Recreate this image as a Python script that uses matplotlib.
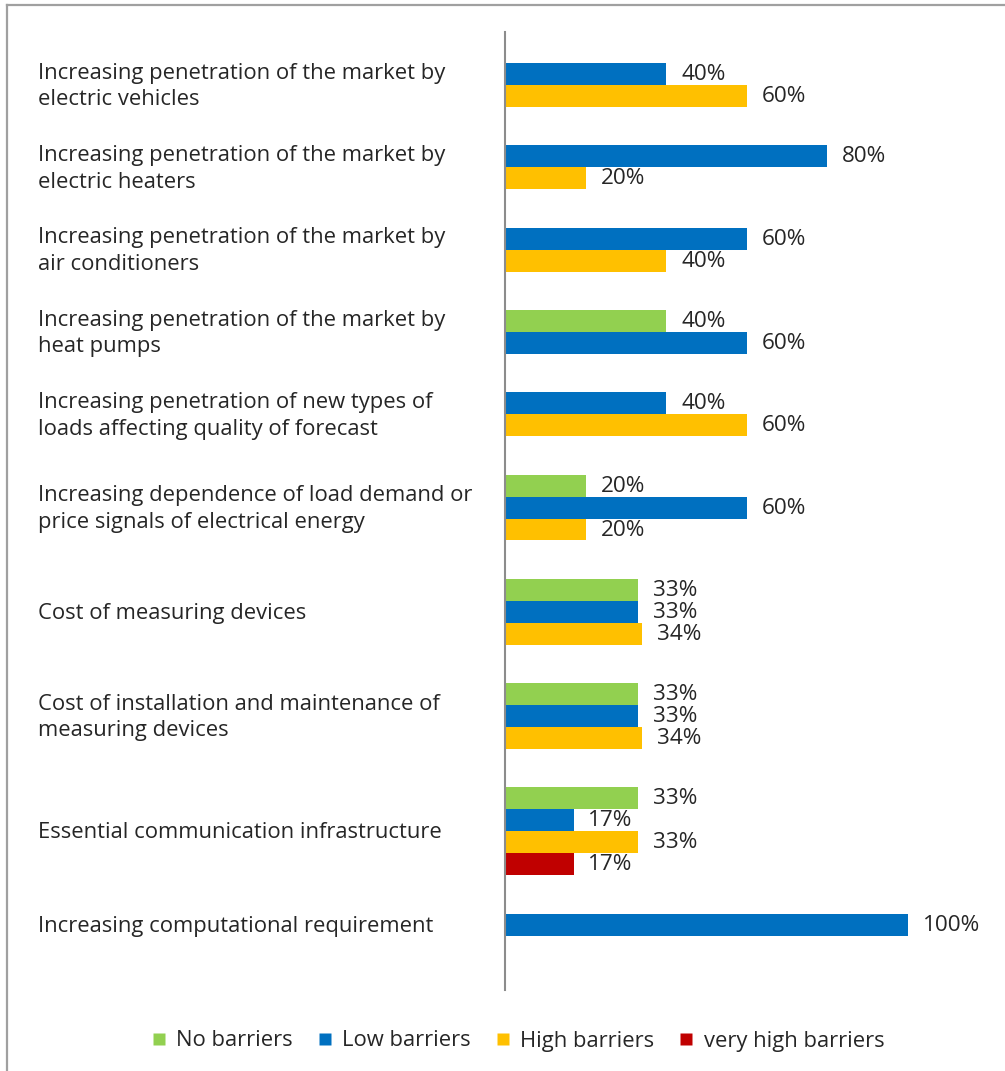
import matplotlib.pyplot as plt
from matplotlib.lines import Line2D
import matplotlib.transforms as mtransforms

plt.rcParams['font.family'] = ['Open Sans', 'DejaVu Sans']

categories = [
    "Increasing penetration of the market by\nelectric vehicles",
    "Increasing penetration of the market by\nelectric heaters",
    "Increasing penetration of the market by\nair conditioners",
    "Increasing penetration of the market by\nheat pumps",
    "Increasing penetration of new types of\nloads affecting quality of forecast",
    "Increasing dependence of load demand or\nprice signals of electrical energy",
    "Cost of measuring devices",
    "Cost of installation and maintenance of\nmeasuring devices",
    "Essential communication infrastructure",
    "Increasing computational requirement",
]
no_barriers = [0, 0, 0, 40, 0, 20, 33, 33, 33, 0]
low_barriers = [40, 80, 60, 60, 40, 60, 33, 33, 17, 100]
high_barriers = [60, 20, 40, 0, 60, 20, 34, 34, 33, 0]
very_high_barriers = [0, 0, 0, 0, 0, 0, 0, 0, 17, 0]

series_names = ["No barriers", "Low barriers", "High barriers", "very high barriers"]
colors = ["#92D050", "#0070C0", "#FFC000", "#C00000"]
text_color = "#262626"

W, H = 1005, 1071
fig = plt.figure(figsize=(W / 100, H / 100), dpi=100)
# axes in pixel units: x 0..100 %, y counts pixels downward from the axis top
ax = fig.add_axes([505 / W, (H - 990) / H, 403 / W, 958 / H])
ax.set_xlim(0, 100)
ax.set_ylim(958, 0)

bar_h = 22
gap = 38.3
y = 31
series = [no_barriers, low_barriers, high_barriers, very_high_barriers]
label_trans = mtransforms.blended_transform_factory(fig.transFigure, ax.transData)
for i, cat in enumerate(categories):
    vals = [(s[i], c) for s, c in zip(series, colors) if s[i] > 0]
    top = y
    for v, c in vals:
        ax.barh(y + bar_h / 2, v, height=bar_h, color=c, edgecolor='none')
        ax.text(v + 3.7, y + bar_h / 2 + 0.5, f"{v}%", ha='left', va='center',
                fontsize=16.2, color=text_color, clip_on=False)
        y += bar_h
    center = (top + y) / 2
    ax.text(38 / W, center + 1.5, cat, transform=label_trans, ha='left', va='center',
            fontsize=15.8, color=text_color, linespacing=1.36)
    y += gap

for side in ['top', 'right', 'bottom']:
    ax.spines[side].set_visible(False)
ax.spines['left'].set_color('#8c8c8c')
ax.spines['left'].set_linewidth(1.5)
ax.set_xticks([])
ax.set_yticks([])

handles = [Line2D([], [], marker='s', linestyle='none', markersize=9,
                  markerfacecolor=c, markeredgecolor='none') for c in colors]
fig.legend(handles, series_names, ncol=4, loc='center', frameon=False,
           bbox_to_anchor=(517 / W, 1 - 1041 / H), fontsize=15.8,
           handlelength=0.8, handletextpad=0.4, columnspacing=1.05,
           labelcolor=text_color)

# outer frame (top and left edges only)
fig.add_artist(Line2D([7 / W, 1], [1 - 5 / H, 1 - 5 / H], color='#a0a0a0', lw=1.6))
fig.add_artist(Line2D([7 / W, 7 / W], [0, 1 - 5 / H], color='#a0a0a0', lw=1.6))

fig.savefig('out.png', dpi=100)
